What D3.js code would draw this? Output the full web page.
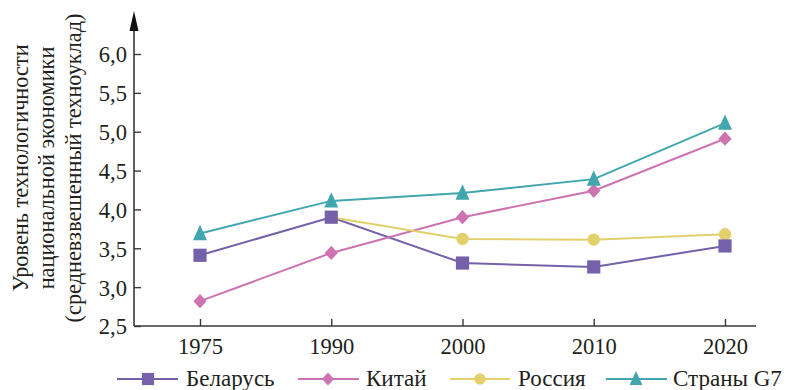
<!DOCTYPE html>
<html><head><meta charset="utf-8">
<script src="https://cdn.jsdelivr.net/npm/d3@7/dist/d3.min.js"></script>
<style>body{margin:0;background:#fff}svg{display:block}svg text{font-family:"Liberation Serif","Times New Roman",serif;fill:#231f20}</style>
</head><body>
<svg id="c" width="787" height="390"></svg>
<script>
const years = ["1975","1990","2000","2010","2020"];
const yTicks = [2.5,3.0,3.5,4.0,4.5,5.0,5.5,6.0];
const belarus = [3.41,3.90,3.31,3.26,3.53];
const china   = [2.82,3.44,3.90,4.24,4.91];
const russia  = [null,3.90,3.62,3.61,3.68];
const g7      = [3.69,4.11,4.21,4.39,5.11];
const seriesNames = ["Беларусь","Китай","Россия","Страны G7"];
const titleLines = ["Уровень технологичности","национальной экономики","(средневзвешенный техноуклад)"];

// custom marker shapes
const square = {draw(ctx,s){ctx.moveTo(-s,-s);ctx.lineTo(s,-s);ctx.lineTo(s,s);ctx.lineTo(-s,s);ctx.closePath();}};
const diamond = {draw(ctx,s){ctx.moveTo(0,-s*1.08);ctx.lineTo(s,0);ctx.lineTo(0,s*1.08);ctx.lineTo(-s,0);ctx.closePath();}};
const circle = {draw(ctx,s){ctx.moveTo(s,0);ctx.arc(0,0,s,0,2*Math.PI);}};
const triangle = {draw(ctx,s){ctx.moveTo(0,-s*1.25);ctx.lineTo(s,s*0.95);ctx.lineTo(-s,s*0.95);ctx.closePath();}};

const series = [
  {name:seriesNames[0], values:belarus, color:"#7461a9", shape:square,   r:6.6},
  {name:seriesNames[1], values:china,   color:"#cd73b1", shape:diamond,  r:6.6},
  {name:seriesNames[2], values:russia,  color:"#e1d06b", shape:circle,   r:6.2},
  {name:seriesNames[3], values:g7,      color:"#42a6ae", shape:triangle, r:7}
];

const svg = d3.select("#c");
const ff = "Liberation Serif";
const FS = 24, CX = 0.94;
const x0 = 134, x1 = 756, yBot = 326, yTop = 54;
const x = d3.scalePoint().domain(years).range([200,725]);
const y = d3.scaleLinear().domain([2.5,6.0]).range([yBot,yTop]);
const axisColor = "#3a3a3a";

// x axis
const xa = svg.append("g").attr("transform",`translate(0,${yBot})`)
  .call(d3.axisBottom(x).tickSizeInner(-7).tickSizeOuter(0).tickPadding(10));
xa.attr("font-family",ff);
xa.select(".domain").attr("d",`M${x0},0H${x1}`).attr("stroke",axisColor).attr("stroke-width",1.6);
xa.selectAll(".tick line").attr("stroke",axisColor).attr("stroke-width",1.4);
xa.selectAll(".tick text").attr("font-size",FS).attr("y",28).attr("dy",null).attr("transform",`scale(${CX},1)`);

// y axis
const ya = svg.append("g").attr("transform",`translate(${x0},0)`)
  .call(d3.axisLeft(y).tickValues(yTicks).tickFormat(d=>d3.format(".1f")(d).replace(".",",")).tickSizeInner(-7).tickSizeOuter(0).tickPadding(7.5));
ya.attr("font-family",ff);
ya.select(".domain").attr("d",`M0,${yBot}V22`).attr("stroke",axisColor).attr("stroke-width",1.6);
ya.selectAll(".tick line").attr("stroke",axisColor).attr("stroke-width",1.4);
ya.selectAll(".tick text").attr("font-size",FS).attr("dy","0.33em").attr("transform",`scale(${CX},1)`);
svg.append("path").attr("d",`M${x0},11L${x0-4.5},31L${x0+4.5},31Z`).attr("fill","#111");

// title
const tg = svg.append("g").attr("transform","translate(0,168) rotate(-90)");
titleLines.forEach((t,i)=>{
  tg.append("text").attr("x",0).attr("y",0).attr("transform",`translate(0,${28+i*26.3}) scale(0.93,1)`)
    .attr("text-anchor","middle").attr("font-size",FS).attr("font-family",ff).text(t);
});

// lines and markers
const line = d3.line().defined(d=>d.v!=null).x(d=>x(d.k)).y(d=>y(d.v));
series.forEach(s=>{
  const pts = years.map((k,i)=>({k, v:s.values[i]}));
  svg.append("path").datum(pts).attr("d",line).attr("fill","none").attr("stroke",s.color).attr("stroke-width",2);
});
[2,1,0,3].forEach(idx=>{
  const s = series[idx];
  const pts = years.map((k,i)=>({k, v:s.values[i]})).filter(d=>d.v!=null);
  svg.selectAll(null).data(pts).enter().append("path")
    .attr("d",d3.symbol().type(s.shape).size(s.r))
    .attr("transform",d=>`translate(${x(d.k)},${y(d.v)})`)
    .attr("fill",s.color);
});

// legend
const legX = [[117,178,148,186],[298,359,328,366],[450,510,480,518],[606,667,636,673]];
series.forEach((s,i)=>{
  const [a,b,m,t] = legX[i];
  const g = svg.append("g");
  g.append("line").attr("x1",a).attr("x2",b).attr("y1",379).attr("y2",379).attr("stroke",s.color).attr("stroke-width",2);
  g.append("path").attr("d",d3.symbol().type(s.shape).size(s.r*0.92)).attr("transform",`translate(${m},379)`).attr("fill",s.color);
  g.append("text").attr("x",0).attr("y",0).attr("transform",`translate(${t},386) scale(0.96,1)`).attr("font-size",FS).attr("font-family",ff).text(s.name);
});
</script>
</body></html>
